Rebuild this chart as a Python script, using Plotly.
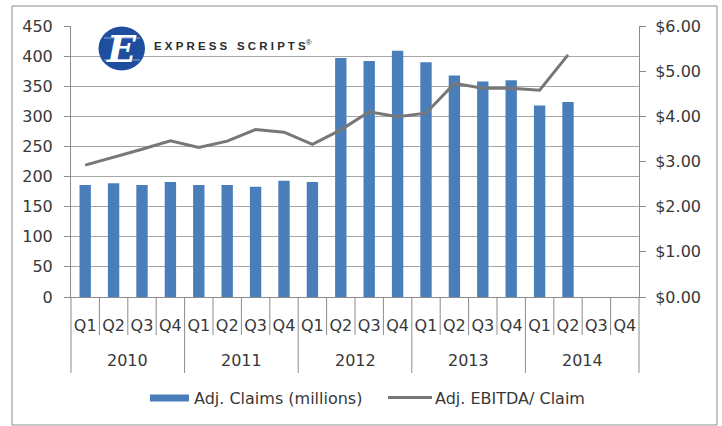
import plotly.graph_objects as go

# ---------------- data ----------------
years = ["2010", "2011", "2012", "2013", "2014"]
quarters = ["Q1", "Q2", "Q3", "Q4"]
claims = [186, 189, 186, 191, 186, 186, 183, 193, 191, 397,
          392, 409, 390, 368, 358, 360, 318, 324, None, None]
ebitda_per_claim = [2.92, 3.09, 3.27, 3.46, 3.31, 3.45, 3.71, 3.65, 3.38, 3.70,
                    4.10, 3.99, 4.07, 4.73, 4.62, 4.62, 4.58, 5.36, None, None]
bar_name = "Adj. Claims (millions)"
line_name = "Adj. EBITDA/ Claim"
logo_text = "EXPRESS SCRIPTS"

# ---------------- layout constants ----------------
W, H = 722, 426
L, T, PW, PH = 71, 26, 568, 271
R = W - L - PW
B = H - T - PH
FONT = "DejaVu Sans"
TXT = "#383838"
AX = "#8c8c8c"
GRID = "#a6a6a6"
BLUE = "#4a7ebb"
GRAY_LINE = "#777777"


def px(xp):
    return (xp - L) / PW


def py(yp):
    return (T + PH - yp) / PH


n_cat = len(years) * len(quarters)
cats = list(range(n_cat))
tick_text = [q for _ in years for q in quarters]

fig = go.Figure()
fig.add_trace(go.Bar(x=cats, y=claims, name=bar_name, marker=dict(color=BLUE, line=dict(width=0)),
                     width=0.4, yaxis="y", showlegend=False))
fig.add_trace(go.Scatter(x=cats, y=ebitda_per_claim, name=line_name, mode="lines",
                         line=dict(color=GRAY_LINE, width=3), yaxis="y2", showlegend=False,
                         connectgaps=False))

shapes = []
annotations = []

# category separators below the axis
for k in range(0, n_cat + 1):
    is_year = k % len(quarters) == 0
    shapes.append(dict(type="line", xref="x domain", yref="paper",
                       x0=k / n_cat, x1=k / n_cat, y0=0, y1=py(373) if is_year else py(335),
                       line=dict(color=AX, width=1)))

# year labels
for g, yr in enumerate(years):
    annotations.append(dict(x=g * len(quarters) + (len(quarters) - 1) / 2, xref="x",
                            y=py(360), yref="paper", text=yr, showarrow=False,
                            font=dict(family=FONT, size=16, color=TXT),
                            xanchor="center", yanchor="middle"))

# outer border
shapes.append(dict(type="rect", xref="paper", yref="paper",
                   x0=px(12), x1=px(717), y0=py(425), y1=py(6),
                   line=dict(color=AX, width=1), fillcolor="rgba(0,0,0,0)", layer="below"))

# legend (manual)
shapes.append(dict(type="rect", xref="paper", yref="paper",
                   x0=px(150), x1=px(189), y0=py(401.5), y1=py(394.5),
                   line=dict(width=0), fillcolor=BLUE))
annotations.append(dict(x=px(192), y=py(398), xref="paper", yref="paper", text=bar_name,
                        showarrow=False, xanchor="left", yanchor="middle",
                        font=dict(family=FONT, size=16, color=TXT)))
shapes.append(dict(type="line", xref="paper", yref="paper",
                   x0=px(388), x1=px(432), y0=py(397.5), y1=py(397.5),
                   line=dict(color=GRAY_LINE, width=3)))
annotations.append(dict(x=px(433), y=py(398), xref="paper", yref="paper", text=line_name,
                        showarrow=False, xanchor="left", yanchor="middle",
                        font=dict(family=FONT, size=16, color=TXT)))

# logo
shapes.append(dict(type="circle", xref="paper", yref="paper",
                   x0=px(98.5), x1=px(145), y0=py(70.5), y1=py(26.5),
                   line=dict(width=0), fillcolor="#1d4f9e", layer="above"))
for yy, x0, x1 in [(38, 104, 140), (60, 104, 140)]:
    shapes.append(dict(type="line", xref="paper", yref="paper",
                       x0=px(x0), x1=px(x1), y0=py(yy), y1=py(yy),
                       line=dict(color="rgba(255,255,255,0.5)", width=1), layer="above"))
annotations.append(dict(x=px(121), y=py(49), xref="paper", yref="paper",
                        text="<b><i>E</i></b>", showarrow=False, xanchor="center", yanchor="middle",
                        font=dict(family="DejaVu Serif", size=38, color="white")))
spaced = "   ".join(" ".join(word) for word in logo_text.split(" "))
annotations.append(dict(x=px(152), y=py(45), xref="paper", yref="paper",
                        text="<b>" + spaced + "</b><sup>®</sup>", showarrow=False,
                        xanchor="left", yanchor="middle",
                        font=dict(family="Liberation Sans", size=11.5, color="#2b2b2b")))

fig.update_layout(
    width=W, height=H,
    margin=dict(l=L, r=R, t=T, b=B, pad=0),
    paper_bgcolor="white", plot_bgcolor="white",
    bargap=0.6,
    shapes=shapes, annotations=annotations,
    xaxis=dict(range=[-0.5, n_cat - 0.5], tickvals=cats, ticktext=tick_text,
               showline=True, linecolor=AX, linewidth=1, ticks="", showgrid=False,
               zeroline=False, ticklabelstandoff=14,
               tickfont=dict(family=FONT, size=16, color=TXT), fixedrange=True),
    yaxis=dict(range=[0, 450], dtick=50, tick0=0, showline=True, linecolor=AX, linewidth=1,
               ticks="outside", ticklen=6, tickcolor=AX, showgrid=True, gridcolor=GRID,
               gridwidth=1, zeroline=False, ticklabelstandoff=8,
               tickfont=dict(family=FONT, size=16, color=TXT)),
    yaxis2=dict(range=[0, 6], dtick=1, tick0=0, overlaying="y", side="right",
                tickformat="$.2f", showline=True, linecolor=AX, linewidth=1,
                ticks="outside", ticklen=6, tickcolor=AX, showgrid=False, zeroline=False,
                ticklabelstandoff=6,
                tickfont=dict(family=FONT, size=16, color=TXT)),
)

fig.write_html("out.html", config={"displayModeBar": False},
               post_script="document.body.style.margin='0';document.body.style.overflow='hidden';")
